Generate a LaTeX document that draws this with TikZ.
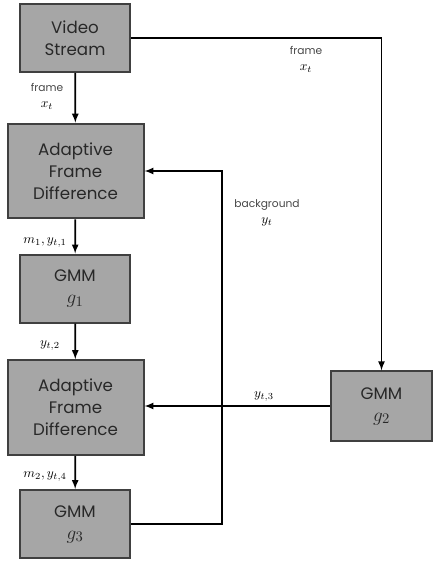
\documentclass[tikz,border=0pt]{standalone}
\usepackage{fontspec}
\setmainfont{Poppins}
\usepackage{tikz}
\usetikzlibrary{calc, positioning, arrows}
\definecolor{boxgray}{RGB}{166,166,166}
\definecolor{edgegray}{RGB}{64,64,64}
\definecolor{taggray}{RGB}{70,70,70}
\definecolor{textgray}{RGB}{40,40,40}
\newcommand\bigmath[1]{{\fontsize{15.5}{16.5}\selectfont $#1$}}
\newcommand\tagmath[1]{{\fontsize{10}{12}\selectfont \color{black}$#1$}}
\tikzset{stagebox/.style={draw=edgegray, fill=boxgray, line width=1.5pt, align=center, inner sep=0pt, text=textgray, font=\fontsize{12.5}{16.5}\selectfont}}
\tikzset{afdsize/.style={minimum width=102pt, minimum height=71pt}}
\tikzset{gmmsize/.style={minimum width=83pt, minimum height=51pt}}
\tikzset{flow/.style={line width=1.3pt, -latex}}
\tikzset{tag/.style={align=center, inner sep=0pt, text=taggray, font=\fontsize{8}{12}\selectfont}}

\begin{document}
\begin{tikzpicture}[x=0.75pt, y=-0.75pt]
	\useasboundingbox (0,0) rectangle (433,563);
	% main column
	\node[stagebox, gmmsize] (video) at (75,38) {Video\\Stream};
	\node[stagebox, afdsize] (afdA) at (75.5,171) {Adaptive\\Frame\\Difference};
	\node[stagebox, gmmsize] (gmmA) at (75,288.5) {GMM\\\bigmath{g_1}};
	\node[stagebox, afdsize] (afdB) at (75.5,407.5) {Adaptive\\Frame\\Difference};
	\node[stagebox, gmmsize] (gmmC) at (75,524) {GMM\\\bigmath{g_3}};
	% side model
	\node[stagebox, minimum width=76pt, minimum height=52pt] (gmmB) at (381.5,406) {GMM\\\bigmath{g_2}};
	\coordinate (loopturn) at (222,171);
	% connectors
	\draw[flow] (video) -- (afdA);
	\draw[flow] (afdA) -- (gmmA);
	\draw[flow] (gmmA) -- (afdB);
	\draw[flow] (afdB) -- (gmmC);
	\draw[flow] (video.east) -| (gmmB.north);
	\draw[flow] (gmmC.east) -| (loopturn) -- (afdA.east);
	\draw[flow] (gmmB.west) -- (gmmB.west -| afdB.east);
	% labels
	\node[tag] (tagA) at (47,96) {frame\\\tagmath{x_t}};
	\node[tag] (tagB) at (306,59) {frame\\\tagmath{x_t}};
	\node[tag] (tagC) at (267,213) {background\\\tagmath{y_t}};
	\node[tag] (tagD) at (45,243) {\tagmath{m_1, y_{t,1}}};
	\node[tag] (tagE) at (50,346) {\tagmath{y_{t,2}}};
	\node[tag] (tagF) at (264,397) {\tagmath{y_{t,3}}};
	\node[tag] (tagG) at (45,477) {\tagmath{m_2, y_{t,4}}};
\end{tikzpicture}
\end{document}
